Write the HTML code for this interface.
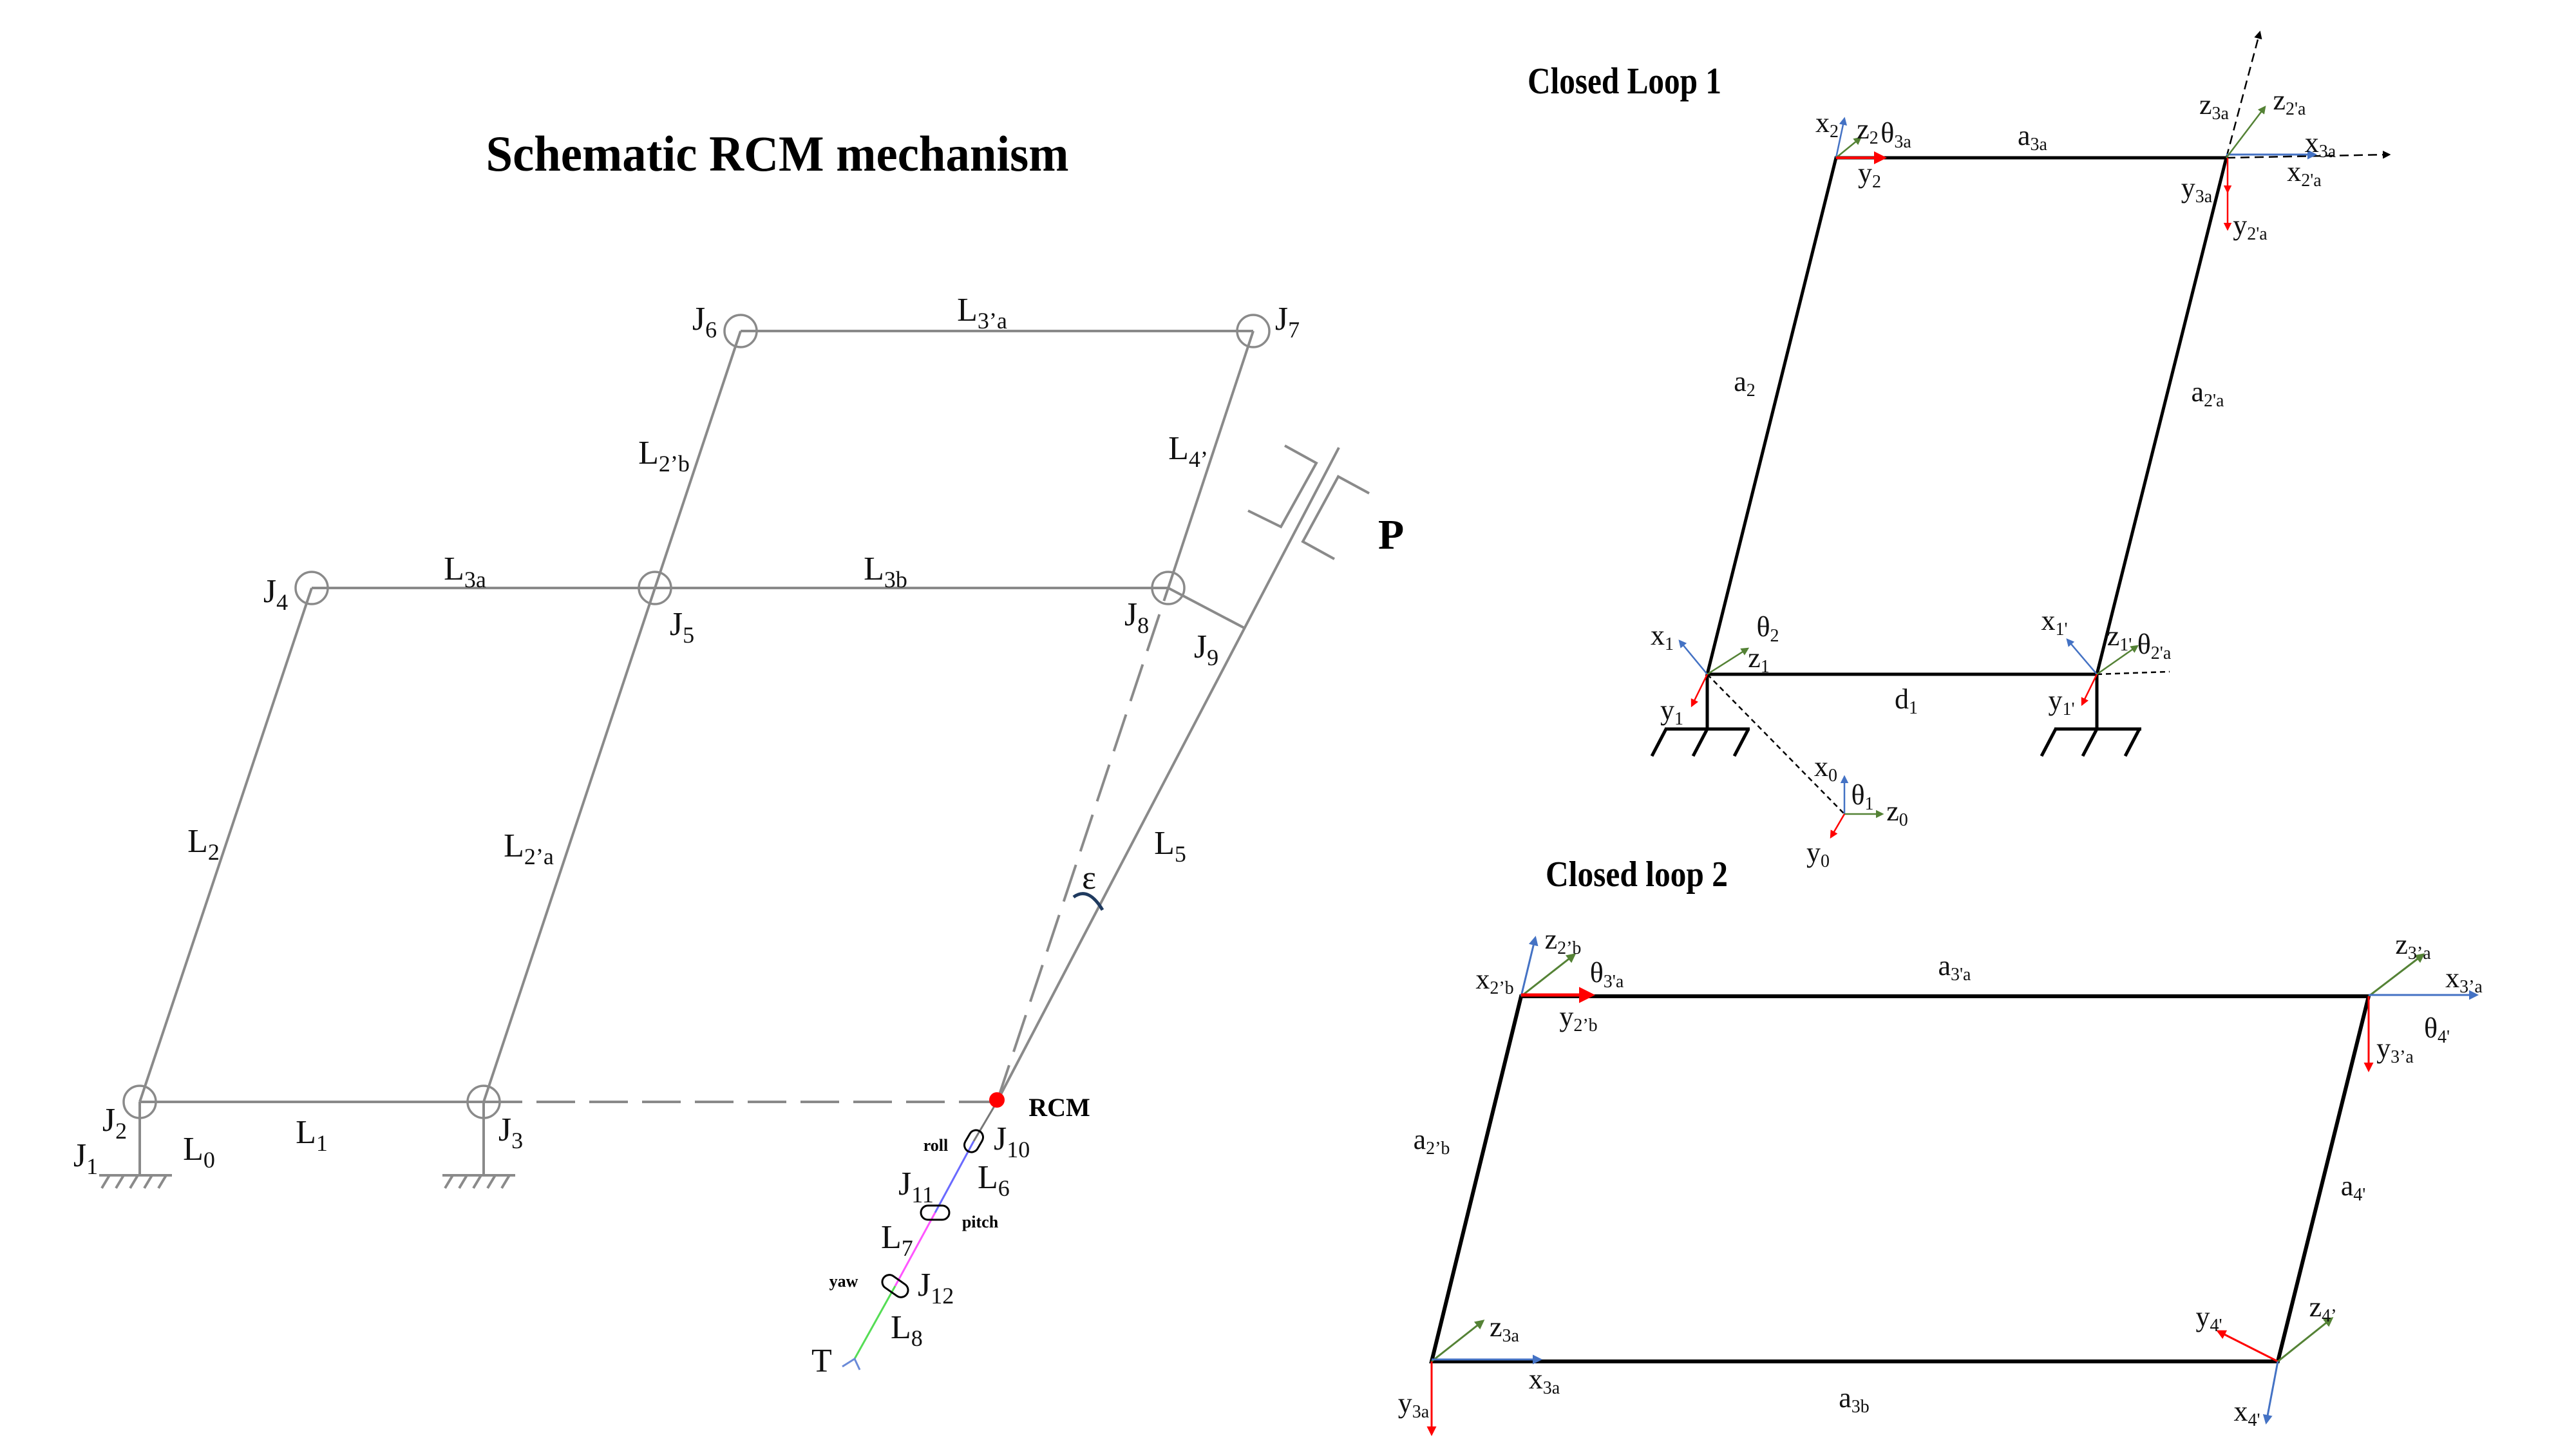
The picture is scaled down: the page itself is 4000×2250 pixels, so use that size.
<!DOCTYPE html>
<html><head><meta charset="utf-8"><style>
html,body{margin:0;padding:0;background:#fff;}
svg{display:block;}
.l{font-family:"Liberation Serif",serif;font-size:52px;fill:#111;}
.l .s{font-size:36px;}
.r{font-family:"Liberation Serif",serif;font-size:44px;fill:#111;}
.r .s{font-size:28px;}
.b{font-family:"Liberation Serif",serif;font-weight:bold;fill:#000;}
</style></head><body>
<svg width="4000" height="2250" viewBox="0 0 4000 2250" xmlns="http://www.w3.org/2000/svg">
<defs>
<marker id="mB" viewBox="0 0 10 10" refX="8" refY="5" markerWidth="5" markerHeight="5" orient="auto"><path d="M0,0L10,5L0,10z" fill="#4472c4"/></marker>
<marker id="mR" viewBox="0 0 10 10" refX="8" refY="5" markerWidth="5" markerHeight="5" orient="auto"><path d="M0,0L10,5L0,10z" fill="#ff0000"/></marker>
<marker id="mG" viewBox="0 0 10 10" refX="8" refY="5" markerWidth="5" markerHeight="5" orient="auto"><path d="M0,0L10,5L0,10z" fill="#548235"/></marker>
<marker id="mK" viewBox="0 0 10 10" refX="8" refY="5" markerWidth="5" markerHeight="5" orient="auto"><path d="M0,0L10,5L0,10z" fill="#000"/></marker>
</defs>

<!-- LEFT SCHEMATIC -->
<text class="b" x="1207" y="265" font-size="78" text-anchor="middle" textLength="905" lengthAdjust="spacingAndGlyphs">Schematic RCM mechanism</text>

<g stroke="#8a8a8a" stroke-width="4" fill="none">
<line x1="217" y1="1711" x2="751" y2="1711"/>
<line x1="217" y1="1711" x2="484" y2="913"/>
<line x1="751" y1="1711" x2="1150" y2="514"/>
<line x1="484" y1="913" x2="1814" y2="913"/>
<line x1="1150" y1="514" x2="1946" y2="514"/>
<line x1="1946" y1="514" x2="1814" y2="913"/>
<line x1="1548" y1="1711" x2="2079" y2="695"/>
<line x1="1814" y1="913" x2="1932" y2="975"/>
<line x1="217" y1="1711" x2="217" y2="1825"/>
<line x1="751" y1="1711" x2="751" y2="1825"/>
<line x1="154" y1="1825" x2="267" y2="1825"/>
<line x1="687" y1="1825" x2="800" y2="1825"/>
<path d="M170,1825l-12,20M192,1825l-12,20M214,1825l-12,20M236,1825l-12,20M258,1825l-12,20"/>
<path d="M703,1825l-12,20M725,1825l-12,20M747,1825l-12,20M769,1825l-12,20M791,1825l-12,20"/>
<polyline points="1995,692 2044,719 1989,818 1938,793"/>
<polyline points="2126,766 2078,740 2023,841 2072,868"/>
<line x1="751" y1="1711" x2="1548" y2="1711" stroke-dasharray="60,22"/>
<line x1="1548" y1="1711" x2="1814" y2="913" stroke-dasharray="60,22"/>
</g>
<g stroke="#8a8a8a" stroke-width="3.5" fill="none">
<circle cx="217" cy="1711" r="25"/><circle cx="751" cy="1711" r="25"/>
<circle cx="484" cy="913" r="25"/><circle cx="1017" cy="913" r="25"/>
<circle cx="1814" cy="913" r="25"/><circle cx="1150" cy="514" r="25"/>
<circle cx="1946" cy="514" r="25"/>
</g>
<path d="M1667,1393 Q1690,1376 1712,1413" stroke="#1f3a5f" stroke-width="5" fill="none"/>

<g fill="none" stroke-width="3">
<line x1="1548" y1="1711" x2="1512" y2="1772" stroke="#777"/>
<line x1="1512" y1="1772" x2="1452" y2="1883" stroke="#6a6aff"/>
<line x1="1452" y1="1883" x2="1390" y2="1997" stroke="#ff55ff"/>
<line x1="1390" y1="1997" x2="1327" y2="2110" stroke="#55dd55"/>
<path d="M1308,2122L1327,2110L1335,2127" stroke="#6a8ad8"/>
<rect x="-18" y="-11" width="36" height="22" rx="11" transform="translate(1512,1772) rotate(-60)" stroke="#000" stroke-width="3"/>
<rect x="-22" y="-11" width="44" height="22" rx="11" transform="translate(1452,1883)" stroke="#000" stroke-width="3"/>
<rect x="-22" y="-11" width="44" height="22" rx="11" transform="translate(1390,1997) rotate(35)" stroke="#000" stroke-width="3"/>
</g>
<circle cx="1548" cy="1708" r="12" fill="#ff0000"/>

<g>
<text class="l" x="1094" y="512" text-anchor="middle">J<tspan class="s" dy="12">6</tspan></text>
<text class="l" x="1525" y="498" text-anchor="middle">L<tspan class="s" dy="12">3’a</tspan></text>
<text class="l" x="1999" y="512" text-anchor="middle">J<tspan class="s" dy="12">7</tspan></text>
<text class="l" x="1031" y="720" text-anchor="middle">L<tspan class="s" dy="12">2’b</tspan></text>
<text class="l" x="1845" y="713" text-anchor="middle">L<tspan class="s" dy="12">4’</tspan></text>
<text class="l" x="428" y="935" text-anchor="middle">J<tspan class="s" dy="12">4</tspan></text>
<text class="l" x="722" y="900" text-anchor="middle">L<tspan class="s" dy="12">3a</tspan></text>
<text class="l" x="1375" y="900" text-anchor="middle">L<tspan class="s" dy="12">3b</tspan></text>
<text class="l" x="1059" y="986" text-anchor="middle">J<tspan class="s" dy="12">5</tspan></text>
<text class="l" x="1765" y="971" text-anchor="middle">J<tspan class="s" dy="12">8</tspan></text>
<text class="l" x="1873" y="1021" text-anchor="middle">J<tspan class="s" dy="12">9</tspan></text>
<text class="l" x="316" y="1323" text-anchor="middle">L<tspan class="s" dy="12">2</tspan></text>
<text class="l" x="821" y="1330" text-anchor="middle">L<tspan class="s" dy="12">2’a</tspan></text>
<text class="l" x="1817" y="1326" text-anchor="middle">L<tspan class="s" dy="12">5</tspan></text>
<text class="l" x="1691" y="1380" text-anchor="middle">ε</text>
<text class="l" x="178" y="1756" text-anchor="middle">J<tspan class="s" dy="12">2</tspan></text>
<text class="l" x="309" y="1801" text-anchor="middle">L<tspan class="s" dy="12">0</tspan></text>
<text class="l" x="484" y="1775" text-anchor="middle">L<tspan class="s" dy="12">1</tspan></text>
<text class="l" x="793" y="1771" text-anchor="middle">J<tspan class="s" dy="12">3</tspan></text>
<text class="l" x="133" y="1811" text-anchor="middle">J<tspan class="s" dy="12">1</tspan></text>
<text class="b" x="1645" y="1733" font-size="40" text-anchor="middle">RCM</text>
<text class="b" x="1453" y="1787" font-size="26" text-anchor="middle">roll</text>
<text class="l" x="1543" y="1785">J<tspan class="s" dy="12">10</tspan></text>
<text class="l" x="1518" y="1845">L<tspan class="s" dy="12">6</tspan></text>
<text class="l" x="1395" y="1855">J<tspan class="s" dy="12">11</tspan></text>
<text class="b" x="1522" y="1906" font-size="26" text-anchor="middle">pitch</text>
<text class="l" x="1368" y="1938">L<tspan class="s" dy="12">7</tspan></text>
<text class="b" x="1310" y="1998" font-size="26" text-anchor="middle">yaw</text>
<text class="l" x="1425" y="2012">J<tspan class="s" dy="12">12</tspan></text>
<text class="l" x="1383" y="2078">L<tspan class="s" dy="12">8</tspan></text>
<text class="l" x="1260" y="2130">T</text>
<text class="b" x="2160" y="852" font-size="66" text-anchor="middle">P</text>
</g>

<!-- CLOSED LOOP 1 -->
<text class="b" x="2372" y="145" font-size="58" textLength="301" lengthAdjust="spacingAndGlyphs">Closed Loop 1</text>
<g stroke="#000" stroke-width="5" fill="none">
<polygon points="2851,245 3457,245 3256,1047 2651,1047"/>
<line x1="2651" y1="1047" x2="2651" y2="1132"/>
<line x1="3256" y1="1047" x2="3256" y2="1132"/>
<line x1="2585" y1="1132" x2="2717" y2="1132"/>
<line x1="3190" y1="1132" x2="3325" y2="1132"/>
<path d="M2587,1132l-22,42M2651,1132l-22,42M2715,1132l-22,42"/>
<path d="M3192,1132l-22,42M3256,1132l-22,42M3322,1132l-22,42"/>
</g>
<g fill="none" stroke-width="2.5">
<line x1="2651" y1="1047" x2="2864" y2="1264" stroke="#000" stroke-dasharray="8,6"/>
<line x1="3256" y1="1047" x2="3369" y2="1043" stroke="#000" stroke-dasharray="8,6"/>
<line x1="3457" y1="245" x2="3509" y2="50" stroke="#000" stroke-dasharray="14,8" marker-end="url(#mK)"/>
<line x1="3457" y1="245" x2="3710" y2="240" stroke="#000" stroke-dasharray="14,8" marker-end="url(#mK)"/>
<line x1="2864" y1="1264" x2="2864" y2="1206" stroke="#4472c4" marker-end="url(#mB)"/>
<line x1="2864" y1="1264" x2="2923" y2="1264" stroke="#548235" marker-end="url(#mG)"/>
<line x1="2864" y1="1264" x2="2843" y2="1300" stroke="#ff0000" marker-end="url(#mR)"/>
<line x1="2651" y1="1047" x2="2608" y2="995" stroke="#4472c4" marker-end="url(#mB)"/>
<line x1="2651" y1="1047" x2="2714" y2="1007" stroke="#548235" marker-end="url(#mG)"/>
<line x1="2651" y1="1047" x2="2627" y2="1096" stroke="#ff0000" marker-end="url(#mR)"/>
<line x1="3256" y1="1047" x2="3210" y2="993" stroke="#4472c4" marker-end="url(#mB)"/>
<line x1="3256" y1="1047" x2="3319" y2="1003" stroke="#548235" marker-end="url(#mG)"/>
<line x1="3256" y1="1047" x2="3233" y2="1094" stroke="#ff0000" marker-end="url(#mR)"/>
<line x1="2851" y1="245" x2="2864" y2="184" stroke="#4472c4" marker-end="url(#mB)"/>
<line x1="2851" y1="245" x2="2889" y2="214" stroke="#548235" marker-end="url(#mG)"/>
<line x1="2851" y1="245" x2="2926" y2="245" stroke="#ff0000" stroke-width="4" marker-end="url(#mR)"/>
<line x1="3457" y1="240" x2="3595" y2="240" stroke="#4472c4" stroke-width="3" marker-end="url(#mB)"/>
<line x1="3457" y1="245" x2="3517" y2="166" stroke="#548235" marker-end="url(#mG)"/>
<line x1="3459" y1="245" x2="3459" y2="298" stroke="#ff0000" marker-end="url(#mR)"/>
<line x1="3459" y1="298" x2="3459" y2="356" stroke="#ff0000" marker-end="url(#mR)"/>
</g>
<g>
<text class="r" x="2837" y="205" text-anchor="middle">x<tspan class="s" dy="8">2</tspan></text>
<text class="r" x="2900" y="215" text-anchor="middle">z<tspan class="s" dy="8">2</tspan></text>
<text class="r" x="2944" y="221" text-anchor="middle">θ<tspan class="s" dy="8">3a</tspan></text>
<text class="r" x="3156" y="225" text-anchor="middle">a<tspan class="s" dy="8">3a</tspan></text>
<text class="r" x="2903" y="283" text-anchor="middle">y<tspan class="s" dy="8">2</tspan></text>
<text class="r" x="3438" y="177" text-anchor="middle">z<tspan class="s" dy="8">3a</tspan></text>
<text class="r" x="3555" y="170" text-anchor="middle">z<tspan class="s" dy="8">2'a</tspan></text>
<text class="r" x="3603" y="236" text-anchor="middle">x<tspan class="s" dy="8">3a</tspan></text>
<text class="r" x="3578" y="281" text-anchor="middle">x<tspan class="s" dy="8">2'a</tspan></text>
<text class="r" x="3411" y="306" text-anchor="middle">y<tspan class="s" dy="8">3a</tspan></text>
<text class="r" x="3494" y="364" text-anchor="middle">y<tspan class="s" dy="8">2'a</tspan></text>
<text class="r" x="2709" y="607" text-anchor="middle">a<tspan class="s" dy="8">2</tspan></text>
<text class="r" x="3428" y="623" text-anchor="middle">a<tspan class="s" dy="8">2'a</tspan></text>
<text class="r" x="2745" y="988" text-anchor="middle">θ<tspan class="s" dy="8">2</tspan></text>
<text class="r" x="2581" y="1001" text-anchor="middle">x<tspan class="s" dy="8">1</tspan></text>
<text class="r" x="2731" y="1036" text-anchor="middle">z<tspan class="s" dy="8">1</tspan></text>
<text class="r" x="3190" y="978" text-anchor="middle">x<tspan class="s" dy="8">1'</tspan></text>
<text class="r" x="3291" y="1002" text-anchor="middle">z<tspan class="s" dy="8">1'</tspan></text>
<text class="r" x="3345" y="1015" text-anchor="middle">θ<tspan class="s" dy="8">2'a</tspan></text>
<text class="r" x="2596" y="1117" text-anchor="middle">y<tspan class="s" dy="8">1</tspan></text>
<text class="r" x="2960" y="1100" text-anchor="middle">d<tspan class="s" dy="8">1</tspan></text>
<text class="r" x="3201" y="1102" text-anchor="middle">y<tspan class="s" dy="8">1'</tspan></text>
<text class="r" x="2835" y="1205" text-anchor="middle">x<tspan class="s" dy="8">0</tspan></text>
<text class="r" x="2892" y="1249" text-anchor="middle">θ<tspan class="s" dy="8">1</tspan></text>
<text class="r" x="2946" y="1274" text-anchor="middle">z<tspan class="s" dy="8">0</tspan></text>
<text class="r" x="2823" y="1338" text-anchor="middle">y<tspan class="s" dy="8">0</tspan></text>
</g>

<!-- CLOSED LOOP 2 -->
<text class="b" x="2400" y="1376" font-size="56" textLength="283" lengthAdjust="spacingAndGlyphs">Closed loop 2</text>
<polygon points="2362,1547 3678,1547 3537,2114 2223,2114" stroke="#000" stroke-width="6" fill="none"/>
<g fill="none" stroke-width="3">
<line x1="2362" y1="1547" x2="2384" y2="1456" stroke="#4472c4" marker-end="url(#mB)"/>
<line x1="2362" y1="1547" x2="2445" y2="1482" stroke="#548235" marker-end="url(#mG)"/>
<line x1="2362" y1="1545" x2="2472" y2="1545" stroke="#ff0000" stroke-width="5" marker-end="url(#mR)"/>
<line x1="3678" y1="1547" x2="3763" y2="1482" stroke="#548235" marker-end="url(#mG)"/>
<line x1="3678" y1="1545" x2="3846" y2="1545" stroke="#4472c4" marker-end="url(#mB)"/>
<line x1="3678" y1="1547" x2="3678" y2="1662" stroke="#ff0000" marker-end="url(#mR)"/>
<line x1="2223" y1="2114" x2="2303" y2="2051" stroke="#548235" marker-end="url(#mG)"/>
<line x1="2223" y1="2111" x2="2392" y2="2111" stroke="#4472c4" marker-end="url(#mB)"/>
<line x1="2223" y1="2114" x2="2223" y2="2227" stroke="#ff0000" marker-end="url(#mR)"/>
<line x1="3537" y1="2114" x2="3444" y2="2067" stroke="#ff0000" marker-end="url(#mR)"/>
<line x1="3537" y1="2114" x2="3621" y2="2047" stroke="#548235" marker-end="url(#mG)"/>
<line x1="3537" y1="2114" x2="3519" y2="2209" stroke="#4472c4" marker-end="url(#mB)"/>
</g>
<g>
<text class="r" x="2427" y="1473" text-anchor="middle">z<tspan class="s" dy="8">2’b</tspan></text>
<text class="r" x="2321" y="1535" text-anchor="middle">x<tspan class="s" dy="8">2’b</tspan></text>
<text class="r" x="2495" y="1525" text-anchor="middle">θ<tspan class="s" dy="8">3'a</tspan></text>
<text class="r" x="3035" y="1514" text-anchor="middle">a<tspan class="s" dy="8">3'a</tspan></text>
<text class="r" x="2451" y="1593" text-anchor="middle">y<tspan class="s" dy="8">2’b</tspan></text>
<text class="r" x="3747" y="1481" text-anchor="middle">z<tspan class="s" dy="8">3’a</tspan></text>
<text class="r" x="3826" y="1533" text-anchor="middle">x<tspan class="s" dy="8">3’a</tspan></text>
<text class="r" x="3784" y="1611" text-anchor="middle">θ<tspan class="s" dy="8">4'</tspan></text>
<text class="r" x="3719" y="1642" text-anchor="middle">y<tspan class="s" dy="8">3’a</tspan></text>
<text class="r" x="2223" y="1784" text-anchor="middle">a<tspan class="s" dy="8">2’b</tspan></text>
<text class="r" x="3654" y="1856" text-anchor="middle">a<tspan class="s" dy="8">4'</tspan></text>
<text class="r" x="2336" y="2075" text-anchor="middle">z<tspan class="s" dy="8">3a</tspan></text>
<text class="r" x="3430" y="2059" text-anchor="middle">y<tspan class="s" dy="8">4'</tspan></text>
<text class="r" x="3607" y="2044" text-anchor="middle">z<tspan class="s" dy="8">4’</tspan></text>
<text class="r" x="2398" y="2156" text-anchor="middle">x<tspan class="s" dy="8">3a</tspan></text>
<text class="r" x="2879" y="2185" text-anchor="middle">a<tspan class="s" dy="8">3b</tspan></text>
<text class="r" x="2195" y="2193" text-anchor="middle">y<tspan class="s" dy="8">3a</tspan></text>
<text class="r" x="3489" y="2206" text-anchor="middle">x<tspan class="s" dy="8">4'</tspan></text>
</g>
</svg>
</body></html>
